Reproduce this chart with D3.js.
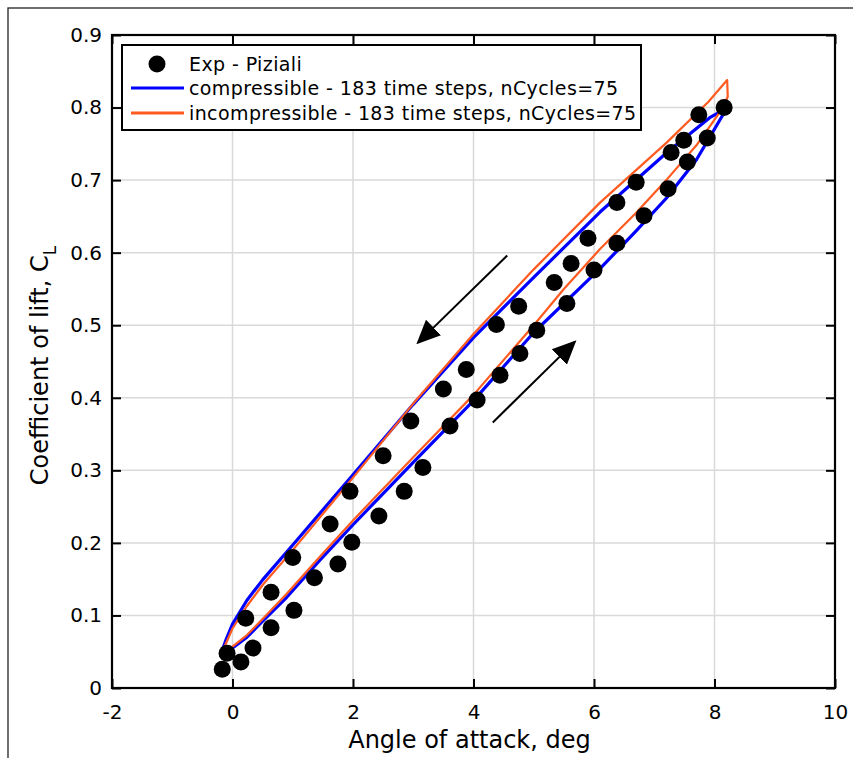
<!DOCTYPE html>
<html>
<head>
<meta charset="utf-8">
<script src="https://cdn.jsdelivr.net/npm/d3@7"></script>
<style>
  body { margin: 0; background: #fff; }
  text { font-family: "DejaVu Sans", sans-serif; fill: #000; }
  .grid line { stroke: #d9d9d9; stroke-width: 1.5; }
</style>
</head>
<body>
<svg id="chart" width="853" height="758"></svg>
<script>
// experimental points (Piziali), upstroke then downstroke
var expAlpha = [-0.17, 0.14, 0.34, 0.64, 1.02, 1.36, 1.75, 1.98, 2.43, 2.85, 3.16, 3.61, 4.06, 4.44, 4.77, 5.05, 5.55, 6.0, 6.38, 6.83, 7.23, 7.55, 7.88, 8.16,
                7.74, 7.49, 7.28, 6.70, 6.38, 5.90, 5.62, 5.34, 4.75, 4.38, 3.88, 3.50, 2.96, 2.50, 1.95, 1.62, 1.00, 0.64, 0.22, -0.09];
var expCl = [0.026, 0.036, 0.055, 0.083, 0.107, 0.152, 0.171, 0.201, 0.237, 0.271, 0.304, 0.361, 0.397, 0.431, 0.461, 0.493, 0.530, 0.576, 0.613, 0.651, 0.688, 0.725, 0.758, 0.800,
             0.790, 0.755, 0.738, 0.697, 0.669, 0.620, 0.585, 0.559, 0.526, 0.501, 0.439, 0.412, 0.368, 0.320, 0.271, 0.226, 0.180, 0.132, 0.096, 0.048];

// compressible loop
var compAlpha = [-0.2, 0.0, 0.24, 0.5, 0.9, 1.45, 2.0, 3.0, 4.0, 5.0, 6.1, 6.7, 7.2, 7.7, 8.14, 8.22,
                 7.92, 7.21, 6.1, 5.0, 4.0, 3.0, 2.0, 1.0, 0.5, 0.24, 0.0, -0.1, -0.2];
var compCl = [0.045, 0.055, 0.070, 0.092, 0.125, 0.176, 0.225, 0.311, 0.396, 0.490, 0.578, 0.630, 0.675, 0.728, 0.790, 0.800,
              0.786, 0.738, 0.656, 0.566, 0.483, 0.391, 0.294, 0.197, 0.149, 0.121, 0.088, 0.068, 0.045];

// incompressible loop
var incAlpha = [-0.2, 0.0, 0.24, 0.5, 0.9, 1.45, 2.0, 3.0, 4.0, 5.0, 5.5, 6.1, 6.7, 7.2, 7.7, 8.1, 8.22,
                8.21, 7.9, 7.21, 6.1, 5.0, 4.0, 3.0, 2.0, 1.0, 0.5, 0.24, 0.0, -0.1, -0.2];
var incCl = [0.045, 0.057, 0.073, 0.095, 0.130, 0.181, 0.231, 0.318, 0.404, 0.500, 0.550, 0.605, 0.655, 0.700, 0.748, 0.795, 0.815,
             0.838, 0.808, 0.752, 0.669, 0.577, 0.488, 0.392, 0.290, 0.190, 0.142, 0.113, 0.082, 0.063, 0.045];

// direction arrows [alpha0, cl0, alpha1, cl1]
var arrows = [[4.56, 0.596, 3.08, 0.476], [4.32, 0.366, 5.68, 0.477]];

var xTicks = [-2, 0, 2, 4, 6, 8, 10];
var yTicks = [0, 0.1, 0.2, 0.3, 0.4, 0.5, 0.6, 0.7, 0.8, 0.9];

var legendLabels = ['Exp - Piziali',
                    'compressible - 183 time steps, nCycles=75',
                    'incompressible - 183 time steps, nCycles=75'];

var BLUE = '#0000ff', ORANGE = '#ff5a1f';

var svg = d3.select('#chart');
var L = 112, T = 35, R = 835, B = 688;

var x = d3.scaleLinear().domain([-2, 10]).range([L, R]);
var y = d3.scaleLinear().domain([0, 0.9]).range([B, T]);

// outer frame
svg.append('rect').attr('x', 8).attr('y', 8).attr('width', 900).attr('height', 900)
  .attr('fill', 'none').attr('stroke', '#222').attr('stroke-width', 1.3);

// grid
var grid = svg.append('g').attr('class', 'grid');
grid.selectAll('line.gx').data(xTicks.slice(1, -1)).enter().append('line')
  .attr('x1', x).attr('x2', x).attr('y1', T).attr('y2', B);
grid.selectAll('line.gy').data(yTicks.slice(1, -1)).enter().append('line')
  .attr('x1', L).attr('x2', R).attr('y1', y).attr('y2', y);

// axes with inward ticks on all four sides
var fmt = function(d) { return d === 0 ? '0' : d3.format('.1f')(d); };
var ax = function(g) {
  g.selectAll('.domain').remove();
  g.selectAll('.tick line').attr('stroke', '#000').attr('stroke-width', 2);
  g.selectAll('text').style('font-size', '20px');
};
svg.append('g').attr('transform', 'translate(0,' + B + ')')
  .call(d3.axisBottom(x).tickValues(xTicks).tickFormat(function(d) { return String(d); })
    .tickSizeInner(-9).tickSizeOuter(0).tickPadding(17))
  .call(ax);
svg.append('g').attr('transform', 'translate(0,' + T + ')')
  .call(d3.axisTop(x).tickValues(xTicks).tickSizeInner(-9).tickSizeOuter(0).tickFormat(''))
  .call(ax);
svg.append('g').attr('transform', 'translate(' + L + ',0)')
  .call(d3.axisLeft(y).tickValues(yTicks).tickFormat(fmt).tickSizeInner(-9).tickSizeOuter(0).tickPadding(10))
  .call(ax);
svg.append('g').attr('transform', 'translate(' + R + ',0)')
  .call(d3.axisRight(y).tickValues(yTicks).tickSizeInner(-9).tickSizeOuter(0).tickFormat(''))
  .call(ax);

// loops
var line = d3.line().x(function(d) { return x(d[0]); }).y(function(d) { return y(d[1]); });
svg.append('path').datum(d3.zip(compAlpha, compCl)).attr('d', line)
  .attr('fill', 'none').attr('stroke', BLUE).attr('stroke-width', 3.2).attr('stroke-linejoin', 'round');
svg.append('path').datum(d3.zip(incAlpha, incCl)).attr('d', line)
  .attr('fill', 'none').attr('stroke', ORANGE).attr('stroke-width', 2.2).attr('stroke-linejoin', 'round');

// experiment
svg.selectAll('circle.exp').data(d3.zip(expAlpha, expCl)).enter().append('circle')
  .attr('class', 'exp')
  .attr('cx', function(d) { return x(d[0]); })
  .attr('cy', function(d) { return y(d[1]); })
  .attr('r', 8.5).attr('fill', '#000');

// arrows
svg.append('defs').append('marker')
  .attr('id', 'head').attr('viewBox', '0 0 10 10').attr('refX', 9).attr('refY', 5)
  .attr('markerWidth', 24).attr('markerHeight', 24).attr('markerUnits', 'userSpaceOnUse')
  .attr('orient', 'auto')
  .append('path').attr('d', 'M0,5 L0,0.5 L10,5 L0,9.5 Z').attr('fill', '#000');
svg.selectAll('line.arrow').data(arrows).enter().append('line')
  .attr('x1', function(d) { return x(d[0]); }).attr('y1', function(d) { return y(d[1]); })
  .attr('x2', function(d) { return x(d[2]); }).attr('y2', function(d) { return y(d[3]); })
  .attr('stroke', '#000').attr('stroke-width', 2).attr('marker-end', 'url(#head)');

// axes box
svg.append('rect').attr('x', L).attr('y', T).attr('width', R - L).attr('height', B - T)
  .attr('fill', 'none').attr('stroke', '#000').attr('stroke-width', 2.2);

// axis labels
svg.append('text').attr('x', (L + R) / 2 - 4).attr('y', 748).attr('text-anchor', 'middle')
  .style('font-size', '24px').text('Angle of attack, deg');
var yl = svg.append('text').attr('transform', 'translate(48,' + ((T + B) / 2 + 4) + ') rotate(-90)')
  .attr('text-anchor', 'middle').style('font-size', '24px');
yl.append('tspan').text('Coefficient of lift, C');
yl.append('tspan').attr('dy', 8).style('font-size', '17px').text('L');

// legend
var lg = svg.append('g');
lg.append('rect').attr('x', 122).attr('y', 45).attr('width', 519).attr('height', 85)
  .attr('fill', '#fff').attr('stroke', '#000').attr('stroke-width', 2);
var rows = [64, 88, 113];
lg.append('circle').attr('cx', 157).attr('cy', rows[0]).attr('r', 8.5).attr('fill', '#000');
lg.append('line').attr('x1', 131).attr('x2', 184).attr('y1', rows[1]).attr('y2', rows[1])
  .attr('stroke', BLUE).attr('stroke-width', 3.2);
lg.append('line').attr('x1', 131).attr('x2', 184).attr('y1', rows[2]).attr('y2', rows[2])
  .attr('stroke', ORANGE).attr('stroke-width', 3);
lg.selectAll('text').data(legendLabels).enter().append('text')
  .attr('x', 189).attr('y', function(d, i) { return rows[i]; }).attr('dy', '0.35em')
  .style('font-size', '19px').style('letter-spacing', '0.4px').text(function(d) { return d; });
</script>
</body>
</html>
